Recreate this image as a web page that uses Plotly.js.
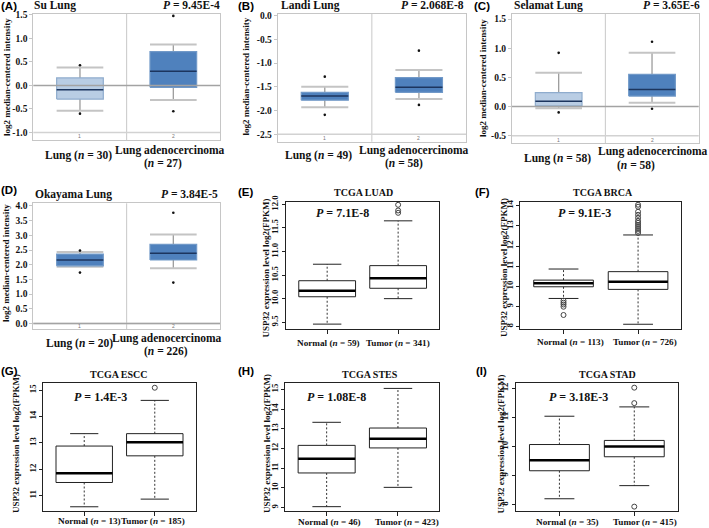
<!DOCTYPE html>
<html><head><meta charset="utf-8">
<script src="https://cdn.plot.ly/plotly-3.0.1.min.js"></script>
<style>html,body{margin:0;padding:0;background:#fff}#chart{width:709px;height:528px}</style>
</head><body><div id="chart"></div>
<script>
// ---------------- data ----------------
const panelLetters = ['(A)','(B)','(C)','(D)','(E)','(F)','(G)','(H)','(I)'];
const panelTitles = ['Su Lung','Landi Lung','Selamat Lung','Okayama Lung','TCGA LUAD','TCGA BRCA','TCGA ESCC','TCGA STES','TCGA STAD'];
const pValues = ['9.45E-4','2.068E-8','3.65E-6','3.84E-5','7.1E-8','9.1E-3','1.4E-3','1.08E-8','3.18E-3'];
const normalNames = ['Lung','Lung','Lung','Lung','Normal','Normal','Normal','Normal','Normal'];
const tumorNames = ['Lung adenocercinoma','Lung adenocercinoma','Lung adenocercinoma','Lung adenocercinoma','Tumor','Tumor','Tumor','Tumor','Tumor'];
const normalN = [30,49,58,20,59,113,13,46,35];
const tumorN = [27,58,58,226,341,726,185,423,415];
const yAxisTitles = ['log2 median-centered intensity','log2 median-centered intensity','log2 median-centered intensity','log2 median-centered intensity',
  'USP32 expression level log2(FPKM)','USP32 expression level log2(FPKM)','USP32 expression level log2(FPKM)','USP32 expression level log2(FPKM)','USP32 expression level log2(FPKM)'];

// box statistics [normal, tumor]
const q1 = [[-0.29,-0.04],[-1.78,-1.615],[0.01,0.18],[1.96,2.16],[10.04,10.22],[9.98,9.85],[11.50,12.51],[10.76,12.03],[9.17,9.65]];
const medians = [[-0.09,0.30],[-1.69,-1.51],[0.09,0.29],[2.16,2.39],[10.17,10.43],[10.15,10.23],[11.85,13.02],[11.48,12.50],[9.53,10.00]];
const q3 = [[0.16,0.72],[-1.615,-1.306],[0.24,0.55],[2.36,2.69],[10.38,10.70],[10.31,10.73],[12.88,13.35],[12.16,13.04],[10.07,10.21]];
const lowerWhisker = [[-0.54,-0.31],[-1.93,-1.756],[-0.03,0.066],[1.93,1.875],[9.46,10.0],[9.40,8.12],[10.58,10.87],[9.05,10.03],[8.21,8.66]];
const upperWhisker = [[0.38,0.87],[-1.50,-1.145],[0.58,0.92],[2.43,3.03],[10.73,11.65],[10.86,12.55],[13.35,14.61],[13.33,15.05],[11.04,11.36]];
const normalOutliers = [[0.43,-0.60],[-1.285,-2.09],[0.92,-0.10],[2.48,1.73],[],[9.29,9.19,9.10,8.99,8.58],[],[],[]];
const tumorOutliers = [[1.48,-0.55],[-0.737,-1.88],[1.11,-0.037],[3.77,1.39],[11.99,11.87,11.82],
  [14.05,13.95,13.7,13.55,13.4,13.25,13.15,13.05,12.95,12.85,12.75,12.65],[15.09],[],[12.02,11.49,7.94]];
const yTickVals = [[-1,-0.5,0,0.5,1,1.5],[-2.5,-2,-1.5,-1,-0.5,0],[-0.5,0,0.5,1,1.5],[0,0.5,1,1.5,2,2.5,3,3.5,4],
  [9.5,10,10.5,11,11.5,12],[8,9,10,11,12,13,14],[11,12,13,14,15],[9,10,11,12,13,14,15],[8,9,10,11,12]];
const tickDecimals = [1,1,1,1,1,0,0,0,0];
const stripTop = [-1.0,-2.5,-0.5,0.0];

// ---------------- layout table (pixels) ----------------
const W = 709, H = 528;
const px = v => v / W;
const py = v => 1 - v / H;
const rects = [[33.3,220,14,140],[277.7,466,14,141.7],[512,698.7,14,143.3],[33.3,220,203.3,329.3],
  [286,439.3,201.7,329.3],[520.3,681.3,201.7,329.3],[43.3,195.7,382.7,511],[285.3,439.3,382.7,511],[516,677.7,382.7,511]];
const yRanges = [[-1.16,1.52],[-2.656,0.036],[-0.63,1.586],[-0.2,4.09],[9.35,12.056],[7.87,14.2],[10.42,15.28],[8.83,15.34],[7.79,12.19]];
const letterPos = [[0,6],[237,6],[473,6],[0,190],[237,192.3],[474,192.3],[0,371],[237,371],[475,371]];
const titlePos = [[32.5,5.5],[280,5.5],[513,5.5],[34,194],[363.3,192.7],[603,192.7],[119,374.3],[369.7,374.3],[607.7,374.3]];
const pPos = [[221,5.5],[465,5.5],[701,5.5],[219,194],[342.7,213.3],[584,213.3],[100.8,396.7],[336.8,396.7],[578.2,396.7]];
const yTitlePos = [[7,77],[245.5,77],[483,78],[6,263],[265.5,268],[504,268],[16,444],[267,444],[500.5,444]];
const normalLabelPos = [[78,156],[318.5,156],[557,158],[79,343.3],[328.8,343.3],[570.8,342.3],[89,520.7],[329.3,521.7],[567,521.7]];
const tumorLabelPos = [[170,150],[413.5,150],[653,152],[166.7,338],[398.3,343.3],[644.5,342.3],[153,520.7],[406.5,521.7],[644.8,521.7]];
const tumorNPos = [[163.3,164],[403.5,164],[636,165],[166,351.7]];

const SERIF = 'Liberation Serif, Times New Roman, serif';
const SANS = 'Liberation Sans, Arial, sans-serif';

const traces = [];
const layout = {
  width: W, height: H, margin: {l:0,r:0,t:0,b:0},
  paper_bgcolor: '#fff', plot_bgcolor: '#fff', showlegend: false,
  annotations: [], shapes: []
};

function ann(o) { layout.annotations.push(Object.assign({showarrow:false, xref:'paper', yref:'paper', borderpad:0}, o)); }

for (let i = 0; i < 9; i++) {
  const sfx = i === 0 ? '' : String(i + 1);
  const xa = 'x' + sfx, ya = 'y' + sfx;
  const onc = i < 4;
  const bw = onc ? 0.5 : 0.8;
  const capw = onc ? 0.5 : 0.4;
  const r = rects[i];

  const wx = [], wy = [], cx = [], cy = [], mx = [], my = [];
  for (let g = 0; g < 2; g++) {
    const c = g + 1;
    wx.push(c, c, null, c, c, null);
    wy.push(q3[i][g], upperWhisker[i][g], null, q1[i][g], lowerWhisker[i][g], null);
    cx.push(c - capw/2, c + capw/2, null, c - capw/2, c + capw/2, null);
    cy.push(upperWhisker[i][g], upperWhisker[i][g], null, lowerWhisker[i][g], lowerWhisker[i][g], null);
    mx.push(c - bw/2, c + bw/2, null);
    my.push(medians[i][g], medians[i][g], null);
  }
  traces.push({type:'scatter', mode:'lines', x:wx, y:wy, xaxis:xa, yaxis:ya, hoverinfo:'skip',
    line: onc ? {color:'#9c9c9c', width:1.3} : {color:'#333', width:1, dash:'2px,2px'}});
  traces.push({type:'scatter', mode:'lines', x:cx, y:cy, xaxis:xa, yaxis:ya, hoverinfo:'skip',
    line: onc ? {color:'#c4c4c4', width:2} : {color:'#222', width:1}});
  for (let g = 0; g < 2; g++) {
    const c = g + 1;
    let fill, border;
    if (onc) {
      const light = g === 0 && (i === 0 || i === 2);
      fill = light ? '#b9cde4' : '#4f81bd';
      border = light ? '#8faccd' : '#7199c8';
    } else { fill = '#ffffff'; border = '#222'; }
    traces.push({type:'scatter', mode:'lines', fill:'toself', fillcolor:fill,
      x:[c - bw/2, c + bw/2, c + bw/2, c - bw/2, c - bw/2],
      y:[q1[i][g], q1[i][g], q3[i][g], q3[i][g], q1[i][g]],
      xaxis:xa, yaxis:ya, hoverinfo:'skip', line:{color:border, width: onc ? 1.2 : 1}});
  }
  traces.push({type:'scatter', mode:'lines', x:mx, y:my, xaxis:xa, yaxis:ya, hoverinfo:'skip',
    line: onc ? {color:'#1c355e', width:1.5} : {color:'#000', width:2.5}});
  const ox = normalOutliers[i].map(() => 1).concat(tumorOutliers[i].map(() => 2));
  const oy = normalOutliers[i].concat(tumorOutliers[i]);
  traces.push({type:'scatter', mode:'markers', x:ox, y:oy, xaxis:xa, yaxis:ya, hoverinfo:'skip',
    marker: onc ? {size:2.6, color:'#111'} : {size:5, symbol:'circle-open', color:'#444', line:{width:1, color:'#444'}}});

  const lc = onc ? '#c6c6c6' : '#222';
  layout['xaxis' + sfx] = {domain:[px(r[0]), px(r[1])], range: onc ? [0.5,2.5] : [0.42,2.58], anchor: ya,
    showgrid:false, zeroline:false, showline:true, mirror:true, linecolor:lc, linewidth:1,
    ticks: onc ? '' : 'outside', tickvals:[1,2], ticklen:4, tickcolor:lc, showticklabels:false, fixedrange:true};
  const yax = {domain:[py(r[3]), py(r[2])], range: yRanges[i], anchor: xa,
    showgrid:false, zeroline:false, showline:true, mirror:true, linecolor:lc, linewidth:1,
    ticks:'outside', ticklen: 3, tickcolor:lc,
    tickvals: yTickVals[i], ticktext: yTickVals[i].map(v => v.toFixed(tickDecimals[i])),
    tickangle: onc ? 0 : -90,
    tickfont:{family:SERIF, size: onc ? 9.5 : 8.8, color:'#111', weight:'bold'}, fixedrange:true};
  if (!onc) yax.ticklabelstandoff = -2.5;
  layout['yaxis' + sfx] = yax;

  if (onc) {
    layout.shapes.push({type:'line', xref:xa, yref: ya + ' domain', x0:1.5, x1:1.5, y0:0, y1:1, line:{color:'#c8c8c8', width:1}});
    layout.shapes.push({type:'line', xref:xa + ' domain', yref:ya, x0:0, x1:1, y0:stripTop[i], y1:stripTop[i], line:{color:'#d2d2d2', width:1.5}});
    if (yRanges[i][0] < 0 && yRanges[i][1] > 0.05)
      layout.shapes.push({type:'line', xref:xa + ' domain', yref:ya, x0:0, x1:1, y0:0, y1:0, line:{color:'#a3a3a3', width:1.5}});
    [1,2].forEach(k => ann({xref:xa, yref:ya, x:k, y:(stripTop[i] + yRanges[i][0]) / 2, text:String(k),
      font:{family:SANS, size:5, color:'#777'}, xanchor:'center', yanchor:'middle'}));
  }

  ann({x:px(letterPos[i][0]), y:py(letterPos[i][1]), text:'<b>' + panelLetters[i] + '</b>', xanchor:'left', yanchor:'middle',
    font:{family:SANS, size:11.5, color:'#000'}});
  ann({x:px(titlePos[i][0]), y:py(titlePos[i][1]), text:'<b>' + panelTitles[i] + '</b>', xanchor: onc ? 'left' : 'center', yanchor:'middle',
    font:{family:SERIF, size: onc ? 11.5 : 10, color:'#111'}});
  ann({x:px(pPos[i][0]), y:py(pPos[i][1]), text:'<b><i>P</i> = ' + pValues[i] + '</b>', xanchor: onc ? 'right' : 'center', yanchor:'middle',
    font:{family:SERIF, size: onc ? 11.5 : 12, color:'#111'}});
  ann({x:px(yTitlePos[i][0]), y:py(yTitlePos[i][1]), text:'<b>' + yAxisTitles[i] + '</b>', textangle:-90, xanchor:'center', yanchor:'middle',
    font:{family:SERIF, size:9, color:'#111'}});
  const xs = onc ? 11.5 : 9.2;
  ann({x:px(normalLabelPos[i][0]), y:py(normalLabelPos[i][1]), text:'<b>' + normalNames[i] + ' (<i>n</i> = ' + normalN[i] + ')</b>',
    xanchor:'center', yanchor:'middle', font:{family:SERIF, size:xs, color:'#111'}});
  if (onc) {
    ann({x:px(tumorLabelPos[i][0]), y:py(tumorLabelPos[i][1]), text:'<b>' + tumorNames[i] + '</b>',
      xanchor:'center', yanchor:'middle', font:{family:SERIF, size:xs, color:'#111'}});
    ann({x:px(tumorNPos[i][0]), y:py(tumorNPos[i][1]), text:'<b>(<i>n</i> = ' + tumorN[i] + ')</b>',
      xanchor:'center', yanchor:'middle', font:{family:SERIF, size:xs, color:'#111'}});
  } else {
    ann({x:px(tumorLabelPos[i][0]), y:py(tumorLabelPos[i][1]), text:'<b>' + tumorNames[i] + ' (<i>n</i> = ' + tumorN[i] + ')</b>',
      xanchor:'center', yanchor:'middle', font:{family:SERIF, size:xs, color:'#111'}});
  }
}

Plotly.newPlot('chart', traces, layout, {staticPlot:true, displayModeBar:false});
</script>
</body></html>
